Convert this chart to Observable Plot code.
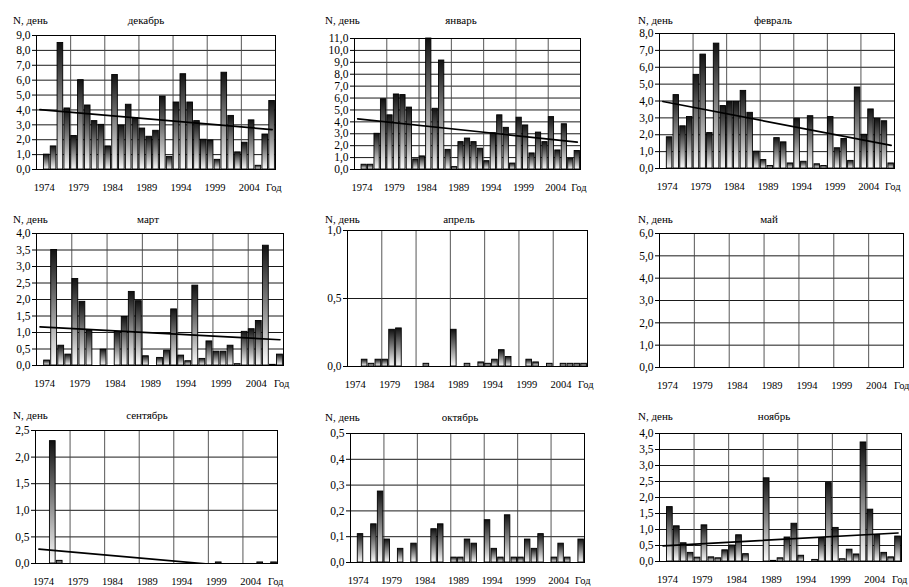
<!DOCTYPE html>
<html><head><meta charset="utf-8">
<script src="https://cdn.jsdelivr.net/npm/d3@7"></script>
<script src="https://cdn.jsdelivr.net/npm/@observablehq/plot@0.6"></script>
<style>
body{margin:0;background:#fff;}
#wrap{position:relative;width:909px;height:587px;font-family:"Liberation Serif","Times New Roman",Times,"DejaVu Serif",serif;color:#000;overflow:hidden;}
.panel{position:absolute;}
.panel svg{overflow:visible;background:transparent;}
.panel svg text{font-family:"Liberation Serif","Times New Roman",Times,"DejaVu Serif",serif;}
.hdr{position:absolute;font-size:11px;white-space:nowrap;line-height:12px;}
</style></head><body><div id="wrap"></div>
<script>
// Seasons (slot of 1973 is empty in every panel)
const years = [1974,1975,1976,1977,1978,1979,1980,1981,1982,1983,1984,1985,1986,1987,1988,1989,1990,
  1991,1992,1993,1994,1995,1996,1997,1998,1999,2000,2001,2002,2003,2004,2005,2006,2007];

const decValues = [1.0,1.55,8.5,4.1,2.25,6.0,4.3,3.25,3.0,1.55,6.35,2.95,4.35,3.45,2.75,2.2,2.6,4.9,0.85,4.5,
  6.4,4.5,3.25,2.0,1.95,0.65,6.5,3.6,1.15,1.8,3.3,0.25,2.35,4.6];
const janValues = [0.4,0.4,3.0,5.9,4.55,6.3,6.25,5.2,0.85,1.1,11.0,5.1,9.15,1.65,0.2,2.3,2.6,2.3,1.75,0.7,
  3.05,4.55,3.5,0.5,4.35,3.7,1.35,3.1,2.3,4.4,1.6,3.8,0.9,1.55];
const febValues = [1.85,4.35,2.5,3.05,5.55,6.75,2.1,7.4,3.7,3.95,3.95,4.6,3.3,1.0,0.5,0.15,1.8,1.55,0.3,2.95,
  0.4,3.1,0.25,0.15,3.05,1.2,1.75,0.45,4.8,2.0,3.5,2.95,2.8,0.3];
const marValues = [0.15,3.5,0.6,0.33,2.62,1.93,1.07,0,0.48,0,1.02,1.47,2.23,1.95,0.28,0,0.23,0.45,1.7,0.3,
  0.13,2.42,0.2,0.73,0.42,0.42,0.6,0.04,1.02,1.1,1.35,3.63,0.02,0.33];
const aprValues = [0,0.05,0.02,0.05,0.05,0.27,0.28,0,0,0,0.02,0,0,0,0.27,0,0.02,0,0.03,0.02,
  0.05,0.12,0.07,0,0,0.05,0.03,0,0.02,0,0.02,0.02,0.02,0.02];
const mayValues = [0,0,0,0,0,0,0,0,0,0,0,0,0,0,0,0,0,0,0,0,0,0,0,0,0,0,0,0,0,0,0,0,0,0];
const sepValues = [0,2.3,0.05,0,0,0,0,0,0,0,0,0,0,0,0,0,0,0,0,0,0,0,0,0,0,0.02,0,0,0,0,0,0.02,0,0.02];
const octValues = [0.11,0,0.148,0.275,0.089,0,0.053,0,0.073,0,0,0.129,0.148,0,0.019,0.019,0.089,0.073,0,0.164,
  0.053,0.019,0.183,0.019,0.019,0.089,0.053,0.11,0,0.019,0.073,0.019,0,0.089];
const novValues = [1.7,1.1,0.57,0.27,0.12,1.13,0.13,0.1,0.35,0.5,0.82,0.23,0,0,2.6,0.02,0.1,0.75,1.18,0.18,
  0,0.05,0.73,2.45,1.05,0.07,0.37,0.22,3.72,1.62,0.83,0.27,0.13,0.78];

// Linear trend lines: value at the start and the end of the period
const trendYears = [1973.5, 2007.5];
const decTrend = [4.02, 2.68];
const janTrend = [4.25, 2.3];
const febTrend = [3.97, 1.37];
const marTrend = [1.17, 0.78];
const sepTrend = [0.27, -0.12];
const novTrend = [0.49, 0.89];

// Axis ticks
const xTicks = [1974, 1979, 1984, 1989, 1994, 1999, 2004, 2007.6];
const xTickLabels = ["1974", "1979", "1984", "1989", "1994", "1999", "2004", "Год"];
const xGrid = [1978, 1983, 1988, 1993, 1998, 2003];
const decTicks = [0,1,2,3,4,5,6,7,8,9];
const janTicks = [0,1,2,3,4,5,6,7,8,9,10,11];
const febTicks = [0,1,2,3,4,5,6,7,8];
const marTicks = [0,0.5,1,1.5,2,2.5,3,3.5,4];
const aprTicks = [0,0.5,1];
const mayTicks = [0,1,2,3,4,5,6];
const sepTicks = [0,0.5,1,1.5,2,2.5];
const octTicks = [0,0.1,0.2,0.3,0.4,0.5];
const novTicks = [0,0.5,1,1.5,2,2.5,3,3.5,4];

const yLabel = "N, день";
const monthNames = ["декабрь","январь","февраль","март","апрель","май","сентябрь","октябрь","ноябрь"];

// layout: cell [x, y, w, h], margins [left, right, top, bottom], header positions
const panels = [
  {id:"dec", values:decValues, ticks:decTicks, trend:decTrend, cell:[0,0,303,195],   m:[36,28,35,26], nx:13, ny:20, tx:146, ty:20},
  {id:"jan", values:janValues, ticks:janTicks, trend:janTrend, cell:[303,0,303,195], m:[51,26,38,26], nx:22, ny:20, tx:158, ty:20},
  {id:"feb", values:febValues, ticks:febTicks, trend:febTrend, cell:[606,0,303,195], m:[53,15,33,27], nx:32, ny:20, tx:167, ty:20},
  {id:"mar", values:marValues, ticks:marTicks, trend:marTrend, cell:[0,195,303,195], m:[36,20,38,25], nx:13, ny:24, tx:148, ty:24},
  {id:"apr", values:aprValues, ticks:aprTicks, trend:null,     cell:[303,195,303,195], m:[44,19,35,24], nx:22, ny:24, tx:156, ty:24},
  {id:"may", values:mayValues, ticks:mayTicks, trend:null,     cell:[606,195,303,195], m:[53,6,38,23], nx:32, ny:24, tx:163, ty:24},
  {id:"sep", values:sepValues, ticks:sepTicks, trend:sepTrend, cell:[0,390,303,197], m:[35,26,40,24], nx:13, ny:25, tx:147, ty:25},
  {id:"oct", values:octValues, ticks:octTicks, trend:null,     cell:[303,390,303,197], m:[47,22,43,25], nx:22, ny:27, tx:157, ty:27},
  {id:"nov", values:novValues, ticks:novTicks, trend:novTrend, cell:[606,390,303,197], m:[53,8,43,26], nx:32, ny:26, tx:168, ty:26}
];

const wrap = document.getElementById("wrap");
const ns = "http://www.w3.org/2000/svg";
const serif = '"Liberation Serif","Times New Roman",Times,"DejaVu Serif",serif';
const fmtY = d => d.toFixed(1).replace(".", ",");
const fmtX = d => xTickLabels[xTicks.indexOf(d)];

panels.forEach((p, i) => {
  const [cx, cy, cw, ch] = p.cell;
  const [ml, mr, mt, mb] = p.m;
  const data = years.map((y, k) => ({year: y, value: p.values[k]})).filter(d => d.value > 0);
  const yMax = p.ticks[p.ticks.length - 1];
  const gid = "grad-" + p.id;
  const marks = [
    Plot.ruleY(p.ticks.filter(t => t > 0 && t < yMax), {stroke: "#000", strokeWidth: 0.9}),
    Plot.ruleX(xGrid, {stroke: "#444", strokeWidth: 0.9}),
    Plot.rectY(data, {x: "year", y: "value", interval: 1, insetLeft: 0.6, insetRight: 0.6,
      fill: `url(#${gid})`, stroke: "#000", strokeWidth: 0.9}),
  ];
  if (p.trend) {
    const tdata = trendYears.map((x, k) => ({x, y: p.trend[k]}));
    marks.push(Plot.line(tdata, {x: "x", y: "y", stroke: "#000", strokeWidth: 1.7, clip: true}));
  }
  marks.push(
    Plot.frame({stroke: "#000", strokeWidth: 1}),
    Plot.axisY({ticks: p.ticks, tickFormat: fmtY, tickSize: 4, tickPadding: 2, fontSize: 11.5, fontFamily: serif, label: null}),
    Plot.axisX({ticks: xTicks, tickFormat: fmtX, tickSize: 0, tickPadding: 14, fontSize: 10.5, fontFamily: serif, dx: 1, label: null})
  );
  const svg = Plot.plot({
    width: cw, height: ch,
    marginLeft: ml, marginRight: mr, marginTop: mt, marginBottom: mb,
    x: {domain: [1973, 2008]},
    y: {domain: [0, yMax]},
    style: {fontFamily: serif, fontSize: "11px", color: "#000", background: "transparent", overflow: "visible"},
    marks
  });
  const defs = document.createElementNS(ns, "defs");
  const lg = document.createElementNS(ns, "linearGradient");
  lg.setAttribute("id", gid);
  lg.setAttribute("x1", "0"); lg.setAttribute("y1", "0");
  lg.setAttribute("x2", "0"); lg.setAttribute("y2", "1");
  [["0", "#111"], ["0.45", "#7a7a7a"], ["1", "#fcfcfc"]].forEach(([o, c]) => {
    const s = document.createElementNS(ns, "stop");
    s.setAttribute("offset", o); s.setAttribute("stop-color", c);
    lg.appendChild(s);
  });
  defs.appendChild(lg);
  svg.insertBefore(defs, svg.firstChild);

  const div = document.createElement("div");
  div.className = "panel";
  div.style.left = cx + "px"; div.style.top = cy + "px";
  div.appendChild(svg);
  wrap.appendChild(div);

  const n = document.createElement("div");
  n.className = "hdr"; n.textContent = yLabel;
  n.style.left = (cx + p.nx) + "px"; n.style.top = (cy + p.ny - 6) + "px";
  wrap.appendChild(n);
  const t = document.createElement("div");
  t.className = "hdr"; t.textContent = monthNames[i];
  t.style.left = (cx + p.tx) + "px"; t.style.top = (cy + p.ty - 6) + "px";
  t.style.transform = "translateX(-50%)";
  wrap.appendChild(t);
});
</script>
</body></html>
